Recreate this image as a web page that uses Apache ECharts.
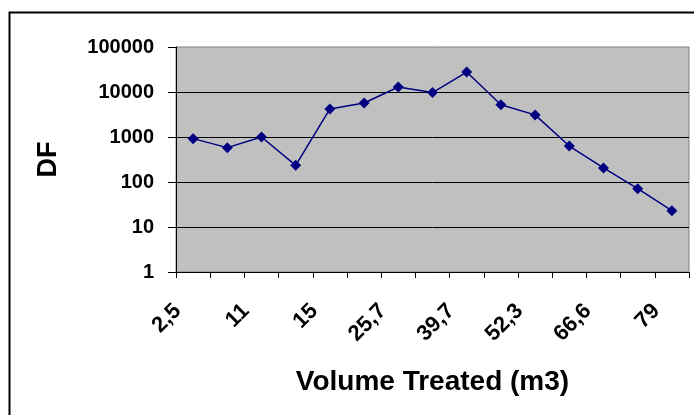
<!DOCTYPE html>
<html>
<head>
<meta charset="utf-8">
<script src="https://cdn.jsdelivr.net/npm/echarts@6/dist/echarts.min.js"></script>
<style>
html,body{margin:0;padding:0;background:#fff;}
#chart{width:694px;height:415px;}
</style>
</head>
<body>
<div id="chart"></div>
<script>
// Categories (every other label is hidden in the reference)
const categories = ['2,5', '', '11', '', '15', '', '25,7', '', '39,7', '', '52,3', '', '66,6', '', '79'];
// DF values
const dfValues = [920, 580, 1000, 235, 4200, 5700, 12900, 9700, 27800, 5200, 3100, 630, 205, 71, 23];
const yTicks = [1, 10, 100, 1000, 10000, 100000];

const chart = echarts.init(document.getElementById('chart'), null, {renderer: 'canvas'});
const FONT = 'Liberation Sans, Arial, sans-serif';
chart.setOption({
  animation: false,
  backgroundColor: '#ffffff',
  graphic: [{
    type: 'rect',
    shape: {x: 9.5, y: 12.5, width: 720, height: 440},
    style: {fill: 'none', stroke: '#000', lineWidth: 2},
    silent: true
  }],
  grid: {
    left: 176, right: 5, top: 47, bottom: 143,
    show: true, backgroundColor: '#c0c0c0', borderColor: '#808080', borderWidth: 1
  },
  xAxis: {
    type: 'category',
    data: categories,
    boundaryGap: true,
    name: 'Volume Treated (m3)',
    nameLocation: 'middle',
    nameGap: 96,
    nameTextStyle: {fontFamily: FONT, fontWeight: 'bold', fontSize: 28, color: '#000'},
    axisLine: {lineStyle: {color: '#000', width: 1}},
    axisTick: {show: true, interval: 0, length: 6, lineStyle: {color: '#000'}},
    axisLabel: {interval: 0, rotate: 45, margin: 20, padding: [0, 22, 0, 0],
      fontFamily: FONT, fontWeight: 'bold', fontSize: 22, color: '#000'},
    splitLine: {show: false}
  },
  yAxis: {
    type: 'log',
    logBase: 10,
    min: yTicks[0],
    max: yTicks[yTicks.length - 1],
    name: 'DF',
    nameLocation: 'middle',
    nameGap: 114,
    nameRotate: 90,
    nameTextStyle: {fontFamily: FONT, fontWeight: 'bold', fontSize: 27, color: '#000'},
    axisLine: {show: true, lineStyle: {color: '#000', width: 1}},
    axisTick: {show: true, length: 8, lineStyle: {color: '#000'}},
    axisLabel: {margin: 22, fontFamily: FONT, fontWeight: 'bold', fontSize: 20, color: '#000',
      formatter: v => String(Math.round(v))},
    splitLine: {show: true, showMaxLine: false, lineStyle: {color: '#000', width: 1}}
  },
  series: [{
    type: 'line',
    data: dfValues,
    symbol: 'diamond',
    symbolSize: 11,
    lineStyle: {color: '#000080', width: 1.5},
    itemStyle: {color: '#000080'}
  }]
});
</script>
</body>
</html>
